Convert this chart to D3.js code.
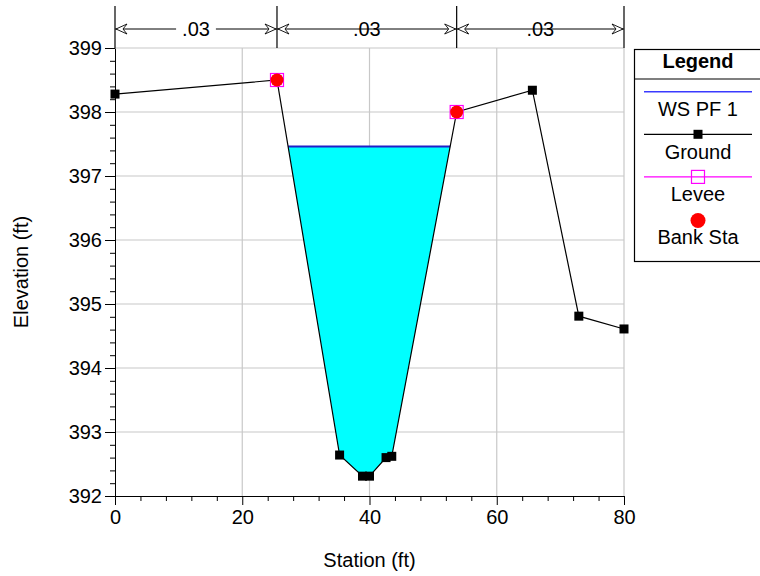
<!DOCTYPE html>
<html>
<head>
<meta charset="utf-8">
<script src="https://cdn.jsdelivr.net/npm/d3@7"></script>
<style>
  body { margin: 0; background: #fff; }
  svg { display: block; font-family: Arial, "Liberation Sans", sans-serif; }
</style>
</head>
<body>
<script>
// cross section data
const stations = [0, 25.46, 35.3, 38.9, 40.0, 42.6, 43.5, 53.7, 65.6, 72.9, 80]
const elevations = [398.28, 398.5, 392.64, 392.31, 392.31, 392.6, 392.62, 398.0, 398.34, 394.81, 394.61]
const bankStations = [25.46, 53.7]
const bankElevations = [398.5, 398.0]
const wsElevation = 397.46
const nBreaks = [0, 25.46, 53.7, 80]
const nValues = ['.03', '.03', '.03']
const xTicks = [0, 20, 40, 60, 80]
const yTicks = [392, 393, 394, 395, 396, 397, 398, 399]
const legendItems = ['WS PF 1', 'Ground', 'Levee', 'Bank Sta']

const W = 760
const H = 576
const margin = { top: 48, right: 136, bottom: 80, left: 115 }
const width = W - margin.left - margin.right
const height = H - margin.top - margin.bottom

const x = d3.scaleLinear().domain([0, 80]).range([margin.left, margin.left + width])
const y = d3.scaleLinear().domain([392, 399]).range([margin.top + height, margin.top])

const svg = d3.select('body').append('svg').attr('width', W).attr('height', H)

const ground = stations.map((s, i) => [s, elevations[i]])

// grid
svg.append('g').selectAll('line').data(yTicks.slice(1)).join('line')
  .attr('x1', x(0)).attr('x2', x(80))
  .attr('y1', d => y(d)).attr('y2', d => y(d))
  .attr('stroke', '#c8c8c8').attr('stroke-width', 1.2)
svg.append('g').selectAll('line').data(xTicks.slice(1)).join('line')
  .attr('x1', d => x(d)).attr('x2', d => x(d))
  .attr('y1', y(392)).attr('y2', y(399))
  .attr('stroke', '#c8c8c8').attr('stroke-width', 1.2)

// water polygon: ground below the water surface between the banks
function waterPolygon () {
  const pts = []
  for (let i = 0; i < ground.length - 1; i++) {
    const [s0, e0] = ground[i]
    const [s1, e1] = ground[i + 1]
    if (s1 < bankStations[0] || s0 > bankStations[1]) continue
    const below0 = e0 < wsElevation
    const below1 = e1 < wsElevation
    if (below0) pts.push([s0, e0])
    if (below0 !== below1) {
      const t = (wsElevation - e0) / (e1 - e0)
      pts.push([s0 + t * (s1 - s0), wsElevation])
    }
  }
  return pts
}
const water = waterPolygon()
const wsLeft = water[0][0]
const wsRight = water[water.length - 1][0]

svg.append('path')
  .datum(water)
  .attr('d', d3.line().x(d => x(d[0])).y(d => y(d[1])))
  .attr('fill', '#00ffff')

svg.append('line')
  .attr('x1', x(wsLeft)).attr('x2', x(wsRight))
  .attr('y1', y(wsElevation)).attr('y2', y(wsElevation))
  .attr('stroke', '#2020c8').attr('stroke-width', 2)

// ground
svg.append('path')
  .datum(ground)
  .attr('d', d3.line().x(d => x(d[0])).y(d => y(d[1])))
  .attr('fill', 'none').attr('stroke', '#000').attr('stroke-width', 1.2)

svg.append('g').selectAll('rect').data(ground).join('rect')
  .attr('x', d => x(d[0]) - 4.5).attr('y', d => y(d[1]) - 4.5)
  .attr('width', 9).attr('height', 9).attr('fill', '#000')

// levee squares and bank circles
svg.append('g').selectAll('rect').data(bankStations).join('rect')
  .attr('x', (d, i) => x(d) - 6.5).attr('y', (d, i) => y(bankElevations[i]) - 6.5)
  .attr('width', 13).attr('height', 13)
  .attr('fill', 'none').attr('stroke', '#ff00ff').attr('stroke-width', 1.2)
svg.append('g').selectAll('circle').data(bankStations).join('circle')
  .attr('cx', d => x(d)).attr('cy', (d, i) => y(bankElevations[i]))
  .attr('r', 6.5).attr('fill', '#ff0000')

// axes
svg.append('g')
  .attr('transform', `translate(${margin.left},0)`)
  .call(d3.axisLeft(y).tickValues(yTicks).tickSize(10).tickSizeOuter(0).tickPadding(3).tickFormat(d3.format('d')))
const yMinor = d3.range(392, 399.001, 0.2).filter(v => Math.abs(v - Math.round(v)) > 0.01)
svg.append('g')
  .attr('transform', `translate(${margin.left},0)`)
  .call(d3.axisLeft(y).tickValues(yMinor).tickSize(5).tickSizeOuter(0).tickFormat(''))
  .select('.domain').remove()

svg.append('g')
  .attr('transform', `translate(0,${margin.top + height})`)
  .call(d3.axisBottom(x).tickValues(xTicks).tickSize(9).tickSizeOuter(0).tickPadding(5))
const xMinor = d3.range(0, 80.001, 4).filter(v => v % 20 !== 0)
svg.append('g')
  .attr('transform', `translate(0,${margin.top + height})`)
  .call(d3.axisBottom(x).tickValues(xMinor).tickSize(5).tickSizeOuter(0).tickFormat(''))
  .select('.domain').remove()

svg.selectAll('.tick text').attr('font-size', 20).attr('fill', '#000').style('font-family', 'Arial, "Liberation Sans", sans-serif')
svg.selectAll('.domain, .tick line').attr('stroke', '#000')

svg.append('text')
  .attr('x', x(40)).attr('y', 567)
  .attr('text-anchor', 'middle').attr('font-size', 20)
  .text('Station (ft)')

svg.append('text')
  .attr('transform', `translate(28,${(y(392) + y(399)) / 2}) rotate(-90)`)
  .attr('text-anchor', 'middle').attr('font-size', 20)
  .text('Elevation (ft)')

// manning's n bar
const nY = 29
const nBar = svg.append('g')
nBar.selectAll('line.brk').data(nBreaks).join('line')
  .attr('class', 'brk')
  .attr('x1', d => x(d)).attr('x2', d => x(d))
  .attr('y1', 6).attr('y2', margin.top)
  .attr('stroke', '#000').attr('stroke-width', 1.2)

nValues.forEach((v, i) => {
  const a = x(nBreaks[i])
  const b = x(nBreaks[i + 1])
  const mid = (a + b) / 2
  nBar.append('line')
    .attr('x1', a).attr('x2', b).attr('y1', nY).attr('y2', nY)
    .attr('stroke', '#000')
  const t = nBar.append('text')
    .attr('x', mid).attr('y', nY + 7)
    .attr('text-anchor', 'middle').attr('font-size', 20)
    .text(v)
  const bb = t.node().getBBox()
  nBar.insert('rect', 'text')
    .attr('x', bb.x - 6).attr('y', nY - 3).attr('width', bb.width + 12).attr('height', 6)
    .attr('fill', '#fff')
  // arrowheads
  nBar.append('path')
    .attr('d', `M${a + 1},${nY} L${a + 12},${nY - 5} L${a + 8},${nY} L${a + 12},${nY + 5} Z`)
    .attr('fill', '#fff').attr('stroke', '#000').attr('stroke-width', 0.9)
  nBar.append('path')
    .attr('d', `M${b - 1},${nY} L${b - 12},${nY - 5} L${b - 8},${nY} L${b - 12},${nY + 5} Z`)
    .attr('fill', '#fff').attr('stroke', '#000').attr('stroke-width', 0.9)
})

// legend
const lg = svg.append('g')
const lx = 634
const lcx = 698
lg.append('rect')
  .attr('x', lx + 0.5).attr('y', 49.5).attr('width', 140).attr('height', 212)
  .attr('fill', '#fff').attr('stroke', '#000').attr('stroke-width', 1.2)
lg.append('line')
  .attr('x1', lx).attr('x2', W).attr('y1', 79).attr('y2', 79)
  .attr('stroke', '#000').attr('stroke-width', 1.2)
lg.append('text')
  .attr('x', lcx).attr('y', 68).attr('text-anchor', 'middle')
  .attr('font-size', 20).attr('font-weight', 'bold')
  .text('Legend')

const rowStep = 42.6
const row0 = 91.7
legendItems.forEach((name, i) => {
  const ly = row0 + i * rowStep
  if (i === 0) {
    lg.append('line').attr('x1', lcx - 54).attr('x2', lcx + 54).attr('y1', ly).attr('y2', ly)
      .attr('stroke', '#3a3aff').attr('stroke-width', 1.5)
  } else if (i === 1) {
    lg.append('line').attr('x1', lcx - 54).attr('x2', lcx + 54).attr('y1', ly).attr('y2', ly)
      .attr('stroke', '#000').attr('stroke-width', 1.2)
    lg.append('rect').attr('x', lcx - 4.5).attr('y', ly - 4.5).attr('width', 9).attr('height', 9).attr('fill', '#000')
  } else if (i === 2) {
    lg.append('line').attr('x1', lcx - 54).attr('x2', lcx + 54).attr('y1', ly).attr('y2', ly)
      .attr('stroke', '#ff00ff').attr('stroke-width', 1.2)
    lg.append('rect').attr('x', lcx - 6.5).attr('y', ly - 6.5).attr('width', 13).attr('height', 13)
      .attr('fill', 'none').attr('stroke', '#ff00ff').attr('stroke-width', 1.2)
  } else {
    lg.append('circle').attr('cx', lcx).attr('cy', ly + 1).attr('r', 7.5).attr('fill', '#ff0000')
  }
  lg.append('text')
    .attr('x', lcx).attr('y', ly + 24.5).attr('text-anchor', 'middle').attr('font-size', 20)
    .text(name)
})
</script>
</body>
</html>
